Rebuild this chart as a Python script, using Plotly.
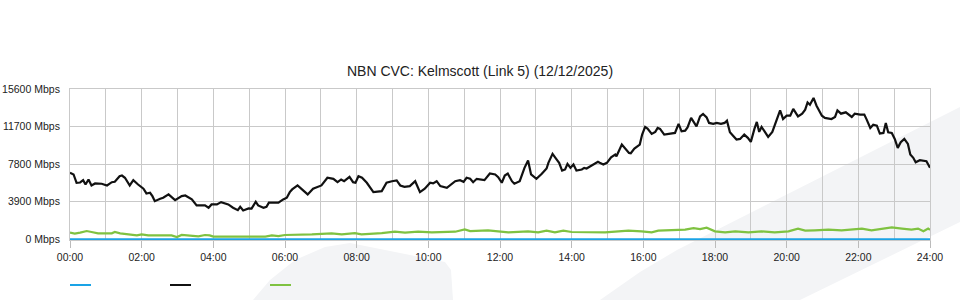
import plotly.graph_objects as go

TITLE = "NBN CVC: Kelmscott (Link 5) (12/12/2025)"

# x tick labels (hours) and y ticks (Mbps)
X_TICKS = list(range(0, 25, 2))
X_LABELS = [f"{h:02d}:00" for h in X_TICKS]
Y_TICKS = [0, 3900, 7800, 11700, 15600]
Y_LABELS = [f"{v} Mbps" for v in Y_TICKS]

# Blue series (minutes since midnight, Mbps)
BLUE_T = [0, 1440]
BLUE_V = [0, 0]

# Black series
BLACK_T = [0,6,11,17,22,26,31,36,42,53,62,70,75,83,87,92,100,106,114,123,128,134,138,142,151,156,165,176,187,193,
           204,212,226,232,237,246,253,260,265,273,281,285,290,299,304,311,315,324,329,333,349,357,363,368,
           372,381,388,398,407,416,421,431,441,448,454,459,468,474,478,483,489,497,502,508,522,530,539,547,553,560,
           569,578,586,594,603,608,614,620,631,636,645,653,659,664,670,675,681,694,703,712,717,723,728,733,
           740,744,753,761,767,772,781,790,798,801,808,815,819,824,829,833,838,843,848,857,861,865,875,884,887,893,
           899,906,913,915,924,929,936,939,945,954,958,963,967,974,980,984,988,995,1002,1008,1013,1019,1024,1030,
           1034,1040,1044,1049,1055,1060,1066,1070,1077,1083,1090,1096,1100,
           1105,1111,1116,1122,1129,1135,1140,1146,1150,1154,1158,1163,1169,1176,1183,1189,1194,1200,1206,1211,
           1219,1226,1231,1235,1239,1245,1250,1259,1264,1275,1281,1285,1291,1299,1309,1314,1323,1330,1334,1340,
           1345,1351,1356,1362,1366,1370,1376,1381,1386,1391,1397,1403,1407,1412,1416,1423,1434,1440]
BLACK_V = [6900,6730,5870,5900,6140,5690,6210,5590,5800,5770,5590,5930,5970,6550,6620,6390,5590,6140,5690,5250,
           4760,4830,4480,3960,4210,4320,4660,4070,4480,4550,4140,3520,3520,3280,3620,3620,3860,3700,3620,3280,
           3030,3380,3000,3210,3180,3900,3520,3280,3380,3800,3800,4140,4320,4900,
           5180,5590,5180,4660,5250,5450,5590,6390,6280,5930,6210,6030,6490,5930,5870,6550,6390,5870,5450,4900,
           5000,5870,6030,6110,5590,5450,5520,6030,4900,5250,5870,5800,6030,5520,5350,5590,6030,6140,5970,6390,
           6280,5930,6280,6140,6830,6730,6450,5870,6620,6830,
           6030,5770,6030,7420,8180,6730,6280,6800,7350,7940,8870,8280,7940,7140,7250,7830,7420,7760,7140,7250,
           7420,7350,7760,8040,7940,7760,7940,8520,8800,8620,9830,9490,8970,8930,9420,9830,10870,11660,11490,10940,
           11150,11560,11460,10870,10940,11040,11040,11980,11210,11280,11620,12600,12240,11730,12760,13010,12660,
           12080,11980,12080,11980,12080,12320,
           11110,10690,10350,10420,10870,10530,10110,11460,12180,11150,11660,11210,10630,11150,12240,13380,12490,
           12830,12830,13530,12760,13040,13460,14210,13970,14670,13870,12830,12600,12490,12700,13380,13040,13180,
           12700,13040,12940,12940,12420,11560,11900,11800,10970,11040,12080,11110,11040,10420,9490,10070,10420,
           9900,8800,8460,8000,8210,8100,7420]

# Green series
GREEN_T = [0,8,17,28,36,47,70,75,84,103,112,120,131,170,179,187,204,215,226,234,240,327,338,349,360,382,405,438,
           455,477,488,522,544,561,583,606,628,645,661,670,700,717,734,767,784,798,812,826,840,896,935,957,974,985,
           1013,1030,1044,1055,1066,1080,1097,1114,1136,1158,1180,1203,1219,1231,1247,1270,1292,1314,1326,1342,
           1359,1376,1393,1409,1420,1429,1437,1440]
GREEN_V = [690,590,690,860,760,620,620,760,620,520,410,520,410,410,240,450,410,310,450,410,280,280,410,340,450,450,
           520,620,520,650,520,650,790,690,790,720,790,790,1030,860,930,790,720,830,720,900,720,900,760,720,900,830,
           720,900,930,1000,1170,1070,1210,830,720,830,720,830,720,830,1110,900,930,1000,930,1000,1110,930,1110,
           1240,1110,1000,1110,830,1110,1000]

BLUE = "#1aa3e6"
BLACK = "#111111"
GREEN = "#7fc241"
GRID = "#c9c9c9"
FONT = "Liberation Sans, Arial, sans-serif"

W, H = 960, 300
ML, MR, MT, MB = 70, 30, 89, 60
PW, PH = W - ML - MR, H - MT - MB


def px(x):
    return (x - ML) / PW


def py(y):
    return (H - MB - y) / PH


def hrs(ts):
    return [t / 60 for t in ts]


fig = go.Figure()
fig.add_trace(go.Scatter(x=hrs(BLUE_T), y=BLUE_V, mode="lines", line=dict(color=BLUE, width=2.2), name=""))
fig.add_trace(go.Scatter(x=hrs(BLACK_T), y=BLACK_V, mode="lines", line=dict(color=BLACK, width=2.2), name=""))
fig.add_trace(go.Scatter(x=hrs(GREEN_T), y=GREEN_V, mode="lines", line=dict(color=GREEN, width=2.2), name=""))

shapes = []


def poly(points, close=True):
    d = "M " + " L ".join(f"{px(a):.5f},{py(b):.5f}" for a, b in points)
    return d + (" Z" if close else "")


# faint background watermark
wm = "#f3f4f6"
shapes.append(dict(type="path", xref="paper", yref="paper", layer="below", line=dict(width=0), fillcolor=wm,
                   path=poly([(253, 300), (270, 280), (295, 260), (325, 247), (350, 243), (445, 262),
                              (451, 270), (453, 300)])))
shapes.append(dict(type="path", xref="paper", yref="paper", layer="below", line=dict(width=0), fillcolor=wm,
                   path=poly([(600, 300), (640, 272), (677, 250), (960, 107), (960, 222), (800, 300)])))

# legend swatches (no labels in the reference)
for x0, c in [(70, BLUE), (170, BLACK), (270, GREEN)]:
    shapes.append(dict(type="line", xref="paper", yref="paper", x0=px(x0), x1=px(x0 + 21), y0=py(285), y1=py(285),
                       line=dict(color=c, width=2)))

fig.update_layout(
    width=W, height=H,
    margin=dict(l=ML, r=MR, t=MT, b=MB, pad=0, autoexpand=False),
    paper_bgcolor="white", plot_bgcolor="rgba(0,0,0,0)",
    showlegend=False,
    font=dict(family=FONT, size=11, color="#222"),
    title=dict(text=TITLE, x=0.5, xanchor="center", y=1 - 71 / H, yanchor="middle",
               font=dict(family=FONT, size=14, color="#222")),
    shapes=shapes,
    xaxis=dict(range=[0, 24], tickmode="array", tickvals=X_TICKS, ticktext=X_LABELS, automargin=False,
               ticks="outside", ticklen=7, tickcolor="#bbbbbb", tickwidth=1,
               showgrid=True, gridcolor=GRID, gridwidth=1, zeroline=False,
               showline=True, linecolor=GRID, mirror=True,
               minor=dict(tickmode="linear", tick0=0, dtick=1, showgrid=True, gridcolor=GRID, gridwidth=1, ticks=""),
               tickfont=dict(family=FONT, size=10.5, color="#222")),
    yaxis=dict(range=[-70, 15601], tickmode="array", tickvals=Y_TICKS, ticktext=Y_LABELS, automargin=False,
               ticks="", showgrid=True, gridcolor=GRID, gridwidth=1, zeroline=False,
               showline=True, linecolor=GRID, mirror=True, ticklabelstandoff=7,
               tickfont=dict(family=FONT, size=10.5, color="#222")),
)

fig.write_html("out.html")
